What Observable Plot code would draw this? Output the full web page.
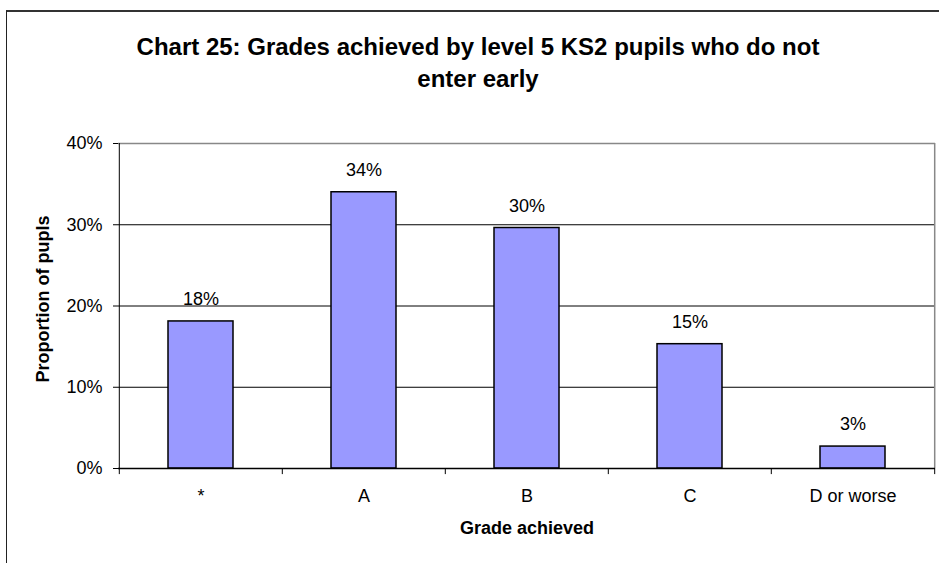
<!DOCTYPE html>
<html><head><meta charset="utf-8">
<script src="https://cdn.jsdelivr.net/npm/d3@7"></script>
<script src="https://cdn.jsdelivr.net/npm/@observablehq/plot@0.6"></script>
<style>
body{margin:0;background:#fff;font-family:"Liberation Sans",Arial,sans-serif}
#wrap{position:relative;width:939px;height:563px;overflow:hidden;background:#fff}
#chart{position:absolute;left:0;top:0}
#frame{position:absolute;left:6px;top:10px;width:980px;height:600px;border-top:2px solid #333;border-left:1.5px solid #222;pointer-events:none}
#title{position:absolute;left:0;width:956px;top:31px;text-align:center;font-weight:bold;font-size:24px;line-height:32px;color:#000}
#ytitle{position:absolute;left:43px;top:299px;transform:translate(-50%,-50%) rotate(-90deg);white-space:nowrap;font-weight:bold;font-size:18px;line-height:20px;color:#000}
#chart svg text{font-size:18px}
</style></head><body>
<div id="wrap"><div id="chart"></div><div id="frame"></div>
<div id="title">Chart 25: Grades achieved by level 5 KS2 pupils who do not<br>enter early</div>
<div id="ytitle"></div></div>
<script>
const grades = ["*", "A", "B", "C", "D or worse"];
const shares = [18.1, 34.0, 29.6, 15.3, 2.7];
const shareLabels = ["18%", "34%", "30%", "15%", "3%"];
const yTicks = [0, 10, 20, 30, 40];
const gridTicks = [10, 20, 30];
const xTitle = "Grade achieved";
const yTitle = "Proportion of pupls";

const data = grades.map((g, i) => ({grade: g, value: shares[i], label: shareLabels[i]}));

const W = 939, H = 563, mL = 118, mR = 4, mT = 143, mB = 95;
const step = (W - mL - mR) / grades.length;

const chart = Plot.plot({
  width: W, height: H,
  marginLeft: mL, marginRight: mR, marginTop: mT, marginBottom: mB,
  style: {fontFamily: "'Liberation Sans', Arial, sans-serif", fontSize: "18px", background: "transparent", color: "#000", overflow: "visible"},
  x: {domain: grades, paddingInner: 0.6, paddingOuter: 0.3, label: null, tickSize: 0, tickPadding: 21},
  y: {domain: [0, 40], ticks: yTicks, tickFormat: d => d + "%", label: null, tickSize: 5, tickPadding: 11},
  marks: [
    Plot.ruleY(gridTicks, {stroke: "#000", strokeWidth: 1}),
    Plot.ruleY([40], {stroke: "#888", strokeWidth: 1.5}),
    Plot.ruleX([grades[grades.length - 1]], {dx: step / 2, stroke: "#888", strokeWidth: 1.5}),
    Plot.ruleX([grades[grades.length - 1]], {dx: step / 2, y1: 0, y2: -0.75, stroke: "#000", clip: false}),
    Plot.ruleX(grades, {dx: -step / 2, y1: 0, y2: -0.75, stroke: "#000", clip: false}),
    Plot.ruleX([grades[0]], {dx: -step / 2, stroke: "#000", strokeWidth: 1}),
    Plot.barY(data, {x: "grade", y: "value", fill: "#9999ff", stroke: "#000", strokeWidth: 1.5}),
    Plot.ruleY([0], {stroke: "#000", strokeWidth: 1.5}),
    Plot.text(data, {x: "grade", y: "value", text: "label", dy: -22, fontSize: 18, fill: "#000"}),
    Plot.text([xTitle], {text: d => d, frameAnchor: "bottom", dy: 65, fontSize: 18, fontWeight: "bold", fill: "#000"})
  ]
});
document.getElementById("chart").appendChild(chart);
document.getElementById("ytitle").textContent = yTitle;
</script>
</body></html>
